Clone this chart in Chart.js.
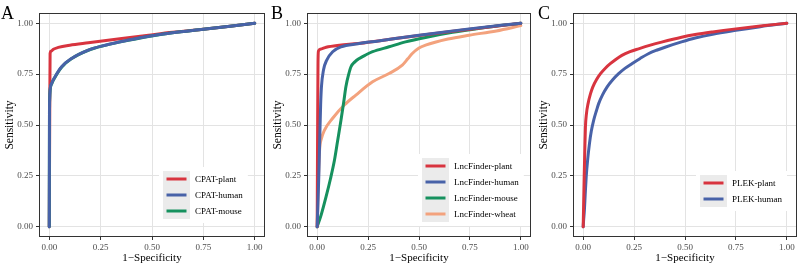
<!DOCTYPE html>
<html>
<head>
<meta charset="utf-8">
<script src="https://cdn.jsdelivr.net/npm/chart.js@4/dist/chart.umd.min.js"></script>
<style>
  html, body { margin: 0; padding: 0; background: #ffffff; }
  #wrap { position: relative; width: 800px; height: 268px; overflow: hidden; background: #fff; }
  canvas { position: absolute; top: 0; }
</style>
</head>
<body>
<div id="wrap">
  <canvas id="cA" width="268" height="268" style="left:0px"></canvas>
  <canvas id="cB" width="266" height="268" style="left:268px"></canvas>
  <canvas id="cC" width="266" height="268" style="left:534px"></canvas>
</div>
<script>
// ---------- data ----------
const tickValues = [0, 0.25, 0.5, 0.75, 1];
const panelLetters = ['A', 'B', 'C'];

// Panel A: CPAT
const aLabels = ['CPAT-plant', 'CPAT-human', 'CPAT-mouse'];
const aPlantX = [0, 0.002, 0.004, 0.008, 0.02, 0.044, 0.1, 0.19, 0.353, 0.483, 0.6, 0.75, 0.88, 1];
const aPlantY = [0, 0.5, 0.85, 0.862, 0.872, 0.881, 0.892, 0.904, 0.925, 0.941, 0.955, 0.97, 0.985, 1];
const aHumanX = [0, 0.001, 0.002, 0.004, 0.012, 0.028, 0.06, 0.109, 0.19, 0.272, 0.385, 0.483, 0.6, 0.75, 0.88, 1];
const aHumanY = [0, 0.55, 0.63, 0.672, 0.705, 0.737, 0.786, 0.827, 0.868, 0.892, 0.917, 0.936, 0.953, 0.97, 0.985, 1];
const aMouseX = [0, 0.001, 0.002, 0.004, 0.012, 0.028, 0.06, 0.109, 0.19, 0.272, 0.385, 0.483, 0.6, 0.75, 0.88, 1];
const aMouseY = [0, 0.55, 0.628, 0.67, 0.703, 0.735, 0.784, 0.826, 0.867, 0.891, 0.916, 0.935, 0.953, 0.97, 0.985, 1];

// Panel B: LncFinder
const bLabels = ['LncFinder-plant', 'LncFinder-human', 'LncFinder-mouse', 'LncFinder-wheat'];
const bPlantX = [0, 0.002, 0.004, 0.006, 0.015, 0.044, 0.109, 0.2, 0.3, 0.5, 0.75, 1];
const bPlantY = [0, 0.45, 0.8, 0.862, 0.872, 0.882, 0.892, 0.9, 0.913, 0.94, 0.97, 1];
const bHumanX = [0, 0.008, 0.013, 0.017, 0.021, 0.031, 0.047, 0.076, 0.117, 0.2, 0.3, 0.5, 0.746, 1];
const bHumanY = [0, 0.25, 0.45, 0.6, 0.688, 0.77, 0.819, 0.86, 0.884, 0.899, 0.913, 0.941, 0.972, 1];
const bMouseX = [0, 0.02, 0.044, 0.065, 0.085, 0.1, 0.117, 0.13, 0.141, 0.155, 0.166, 0.185, 0.207, 0.24, 0.272, 0.353, 0.434, 0.532, 0.665, 0.8, 1];
const bMouseY = [0, 0.06, 0.149, 0.235, 0.328, 0.42, 0.525, 0.61, 0.688, 0.75, 0.786, 0.81, 0.827, 0.845, 0.86, 0.884, 0.908, 0.93, 0.955, 0.975, 1];
const bWheatX = [0, 0.005, 0.012, 0.02, 0.036, 0.076, 0.133, 0.19, 0.272, 0.353, 0.418, 0.445, 0.467, 0.5, 0.532, 0.642, 0.746, 0.88, 1];
const bWheatY = [0, 0.2, 0.38, 0.43, 0.475, 0.533, 0.598, 0.647, 0.712, 0.753, 0.794, 0.825, 0.851, 0.878, 0.892, 0.922, 0.941, 0.962, 0.988];

// Panel C: PLEK
const cLabels = ['PLEK-plant', 'PLEK-human'];
const cPlantX = [0, 0.002, 0.005, 0.008, 0.011, 0.016, 0.024, 0.035, 0.047, 0.065, 0.085, 0.11, 0.133, 0.16, 0.19, 0.23, 0.272, 0.33, 0.385, 0.483, 0.55, 0.636, 0.75, 0.87, 1];
const cPlantY = [0, 0.1, 0.25, 0.38, 0.49, 0.555, 0.605, 0.65, 0.686, 0.722, 0.752, 0.78, 0.801, 0.822, 0.842, 0.86, 0.874, 0.892, 0.907, 0.931, 0.944, 0.957, 0.972, 0.986, 1];
const cHumanX = [0, 0.002, 0.006, 0.01, 0.015, 0.022, 0.031, 0.04, 0.052, 0.065, 0.076, 0.095, 0.117, 0.145, 0.174, 0.205, 0.239, 0.28, 0.32, 0.36, 0.402, 0.483, 0.55, 0.636, 0.75, 0.87, 1];
const cHumanY = [0, 0.03, 0.083, 0.16, 0.247, 0.33, 0.41, 0.47, 0.525, 0.57, 0.605, 0.648, 0.686, 0.722, 0.752, 0.778, 0.801, 0.827, 0.85, 0.867, 0.882, 0.908, 0.927, 0.946, 0.965, 0.983, 1];

// ---------- styles ----------
const RED = '#D8343F', BLUE = '#4862A8', GREEN = '#16915E', ORANGE = '#F3A27D';
const SERIF = '"Liberation Serif", "Times New Roman", serif';

function pts(xs, ys) { return xs.map((x, i) => ({ x: x, y: ys[i] })); }

function ds(label, xs, ys, color, order) {
  return {
    label: label, data: pts(xs, ys), borderColor: color, backgroundColor: color,
    borderWidth: 3, pointRadius: 0, showLine: true, cubicInterpolationMode: 'monotone',
    borderJoinStyle: 'round', borderCapStyle: 'round', order: order
  };
}

const decorPlugin = {
  id: 'decor',
  afterDraw(chart, args, opts) {
    const ctx = chart.ctx, a = chart.chartArea;
    ctx.save();
    // panel border
    ctx.strokeStyle = '#333333';
    ctx.lineWidth = 1;
    ctx.strokeRect(Math.round(a.left) + 0.5, Math.round(a.top) + 0.5,
      Math.round(a.right - a.left) - 1, Math.round(a.bottom - a.top) - 1);
    // panel letter
    ctx.fillStyle = '#000';
    ctx.font = '18px ' + SERIF;
    ctx.textAlign = 'left';
    ctx.textBaseline = 'alphabetic';
    ctx.fillText(opts.letter, opts.letterX, 19);
    // legend
    const L = opts.legend;
    const items = chart.data.datasets.slice().sort((p, q) => p.legendIndex - q.legendIndex);
    ctx.font = '9px ' + SERIF;
    let tw = 0;
    items.forEach(d => { tw = Math.max(tw, ctx.measureText(d.label).width); });
    const n = items.length;
    const textX = L.x + L.keyW + 5;
    ctx.fillStyle = '#ffffff';
    ctx.fillRect(L.x - 4, L.y - 4, L.keyW + 5 + tw + 9, n * L.keyH + 8);
    ctx.fillStyle = '#EBEBEB';
    ctx.fillRect(L.x, L.y, L.keyW, n * L.keyH);
    items.forEach((d, i) => {
      const cy = L.y + i * L.keyH + L.keyH / 2;
      ctx.strokeStyle = d.borderColor;
      ctx.lineWidth = 3;
      ctx.lineCap = 'butt';
      ctx.beginPath();
      ctx.moveTo(L.x + 3.5, cy);
      ctx.lineTo(L.x + L.keyW - 3.5, cy);
      ctx.stroke();
      ctx.fillStyle = '#000';
      ctx.textBaseline = 'middle';
      ctx.fillText(d.label, textX, cy + 0.5);
    });
    ctx.restore();
  }
};

function setTicks(scale) {
  scale.ticks = tickValues.map(v => ({ value: v }));
}

function makeChart(id, datasets, letter, letterX, legend) {
  const axisCommon = {
    type: 'linear', min: -0.05, max: 1.05,
    afterBuildTicks: setTicks,
    border: { display: false },
    grid: { color: '#E3E3E3', lineWidth: 1, tickColor: '#333333', tickLength: 3, drawTicks: true },
    ticks: {
      color: '#4D4D4D', font: { family: SERIF, size: 9 },
      callback: v => Number(v).toFixed(2), autoSkip: false, maxRotation: 0
    }
  };
  return new Chart(document.getElementById(id), {
    type: 'scatter',
    data: { datasets: datasets },
    options: {
      responsive: false, animation: false, devicePixelRatio: 1,
      layout: { padding: { top: 13, right: 3, left: 0, bottom: 0 } },
      plugins: {
        legend: { display: false }, tooltip: { enabled: false },
        decor: { letter: letter, letterX: letterX, legend: legend }
      },
      scales: {
        x: Object.assign({}, axisCommon, {
          position: 'bottom',
          afterFit: s => { s.height = 31; },
          ticks: Object.assign({}, axisCommon.ticks, { padding: 2 }),
          title: { display: true, text: '1\u2212Specificity', color: '#000',
                   font: { family: SERIF, size: 11 }, padding: { top: 0, bottom: 3 } }
        }),
        y: Object.assign({}, axisCommon, {
          position: 'left',
          afterFit: s => { s.width = 39; },
          ticks: Object.assign({}, axisCommon.ticks, { padding: 3 }),
          title: { display: true, text: 'Sensitivity', color: '#000',
                   font: { family: SERIF, size: 11.5 }, padding: { top: 3, bottom: 0 } }
        })
      }
    },
    plugins: [decorPlugin]
  });
}

function withIdx(d, i) { d.legendIndex = i; return d; }

makeChart('cA', [
  withIdx(ds(aLabels[0], aPlantX, aPlantY, RED, 2), 0),
  withIdx(ds(aLabels[1], aHumanX, aHumanY, BLUE, 0), 1),
  withIdx(ds(aLabels[2], aMouseX, aMouseY, GREEN, 1), 2)
], panelLetters[0], 1, { x: 163, y: 171, keyW: 27, keyH: 16 });

makeChart('cB', [
  withIdx(ds(bLabels[0], bPlantX, bPlantY, RED, 1), 0),
  withIdx(ds(bLabels[1], bHumanX, bHumanY, BLUE, 0), 1),
  withIdx(ds(bLabels[2], bMouseX, bMouseY, GREEN, 2), 2),
  withIdx(ds(bLabels[3], bWheatX, bWheatY, ORANGE, 3), 3)
], panelLetters[1], 3, { x: 154, y: 158, keyW: 27, keyH: 16 });

makeChart('cC', [
  withIdx(ds(cLabels[0], cPlantX, cPlantY, RED, 0), 0),
  withIdx(ds(cLabels[1], cHumanX, cHumanY, BLUE, 1), 1)
], panelLetters[2], 4, { x: 166, y: 175, keyW: 27, keyH: 16 });
</script>
</body>
</html>
